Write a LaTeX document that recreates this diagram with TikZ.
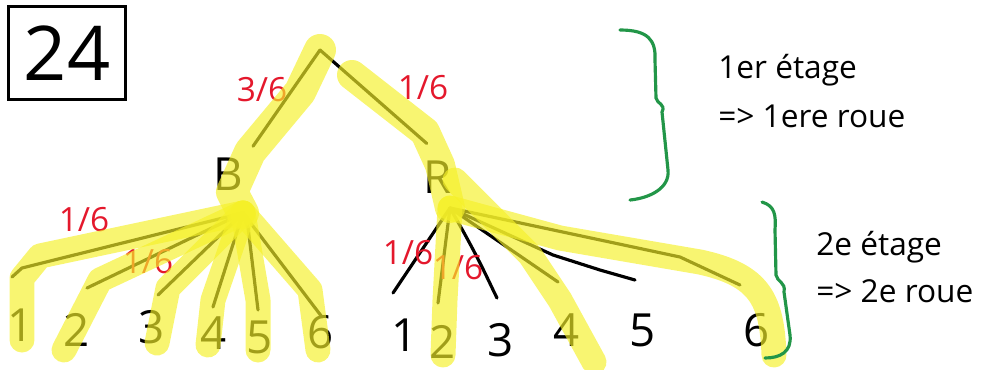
\documentclass[tikz,border=0pt]{standalone}
\usepackage{fontspec}
\setmainfont{Open Sans}
\usetikzlibrary{calc}
\definecolor{marker}{RGB}{245,240,40}
\definecolor{pen}{RGB}{228,24,44}
\definecolor{brace}{RGB}{34,150,72}
\newcommand{\tip}{
coordinate[inner sep=0]
}

\begin{document}
\begin{tikzpicture}[x=0.02cm, y=-0.02cm,
  stroke/.style={line width=1.8pt, line cap=round, line join=round},
  glow/.style={draw=marker, line width=0.5cm, opacity=0.66, line cap=round, line join=round},
  prob/.style={text=pen, font=\fontsize{19}{19}\selectfont},
  leaf/.style={font=\fontsize{26}{26}\selectfont, inner sep=1pt},
  choice/.style={font=\fontsize{26}{26}\selectfont, inner sep=4pt},
  stage/.style={anchor=base west, font=\fontsize{18}{18}\selectfont, inner sep=0},
  curly/.style={draw=brace, line width=1.8pt, line cap=round}]
\useasboundingbox (0,0) rectangle (994,369);

\node[draw, line width=1.7pt, minimum width=2.36cm, minimum height=1.86cm,
  font=\fontsize{43}{43}\selectfont] (title) at (67,53) {24};

% first wheel
\path (320,50) \tip (top);
\node[choice] (B) at (228,174) {B};
\node[choice] (R) at (438,177) {R};
\draw[stroke, shorten >=0.1cm] (top) -- (B.north east);
\draw[stroke, shorten >=0.3cm] (top) -- (R.north);
\path (262,90) node[prob] (pB) {3/6};
\path (423,88) node[prob] (pR) {1/6};

% second wheel below B
\path (243,213) \tip (Bf);
\path (12,277) \tip (be1);
\path (87,288) \tip (be2);
\path (158,295) \tip (be3);
\path (213,307) \tip (be4);
\path (258,310) \tip (be5);
\path (322,317) \tip (be6);
\draw[stroke] (Bf) -- ($(be1)+(10,-9)$) -- (be1);
\draw[stroke] (Bf) -- (be2);
\draw[stroke] (Bf) -- (be3);
\draw[stroke] (Bf) -- (be4);
\draw[stroke] (Bf) -- ++(5,14) -- (be5);
\draw[stroke] (Bf) -- (be6);
\node[leaf] (b1) at (21,325) {1};
\node[leaf] (b2) at (77,330) {2};
\node[leaf] (b3) at (152,327) {3};
\node[leaf] (b4) at (214,333) {4};
\node[leaf] (b5) at (260,337) {5};
\node[leaf] (b6) at (321,332) {6};
\path (84,220) node[prob] (pB1) {1/6};
\path (148,262) node[prob] (pB2) {1/6};

% second wheel below R
\path (450,208) \tip (Rf);
\path (393,293) \tip (re1);
\path (438,303) \tip (re2);
\path (497,298) \tip (re3);
\path (558,282) \tip (re4);
\path (635,280) \tip (re5);
\path (740,285) \tip (re6);
\draw[stroke] (Rf) -- (re1);
\draw[stroke] (Rf) -- (re2);
\draw[stroke] (Rf) .. controls (480,260) and (488,280) .. (re3);
\draw[stroke] (Rf) -- (re4);
\draw[stroke] (Rf) -- (553,255) -- (600,270) -- (re5);
\draw[stroke] (Rf) -- (680,257) -- (re6);
\node[leaf] (r1) at (405,335) {1};
\node[leaf] (r2) at (443,342) {2};
\node[leaf] (r3) at (501,340) {3};
\node[leaf] (r4) at (567,330) {4};
\node[leaf] (r5) at (643,330) {5};
\node[leaf] (r6) at (757,330) {6};
\path (408,253) node[prob] (pR1) {1/6};
\path (458,268) node[prob] (pR2) {1/6};

% highlighter
\draw[glow, line width=0.64cm] (top) -- (300,92) -- (250,152) -- (232,192) -- (Bf);
\draw[glow] (Bf) -- (40,256) -- (22,278) -- (22,340);
\draw[glow] (Bf) -- (100,280) -- (64,350);
\draw[glow] (Bf) -- (168,288) -- (157,343);
\draw[glow] (Bf) -- (213,300) -- (208,345);
\draw[glow] (Bf) -- (258,300) -- (258,350);
\draw[glow] (Bf) -- (310,290) -- (318,350);
\draw[glow, line width=0.6cm] (352,75) -- (425,132) -- (440,165) -- (Rf);
\draw[glow] (455,180) -- (530,255) -- (560,300) -- (594,362);
\draw[glow] (Rf) -- (445,300) -- (443,355);
\draw[glow] (Rf) -- (560,238) -- (700,262) .. controls (760,275) and (772,300) .. (774,355);

% braces
\draw[curly] (620,30) .. controls (648,30) and (656,40) .. (655,60) -- (656,98)
  .. controls (657,104) and (666,104) .. (662,112) -- (668,170)
  .. controls (670,188) and (650,198) .. (630,200);
\draw[curly] (762,202) .. controls (775,206) and (776,215) .. (775,230) -- (776,275)
  .. controls (777,282) and (786,282) .. (784,292) -- (790,335)
  .. controls (792,352) and (780,358) .. (765,358);
\node[stage] (s1) at (718,78) {1er étage};
\node[stage] (s1b) at (718,127) {=> 1ere roue};
\node[stage] (s2) at (816,255) {2e étage};
\node[stage] (s2b) at (816,302) {=> 2e roue};
\end{tikzpicture}
\end{document}
